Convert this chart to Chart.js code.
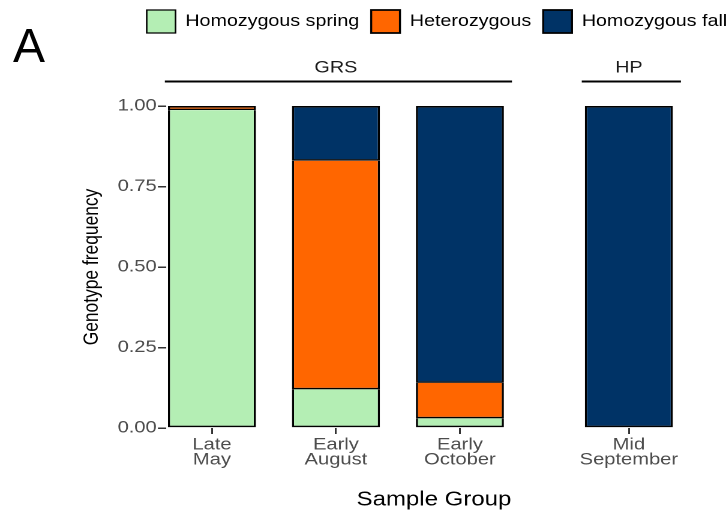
<!DOCTYPE html>
<html><head><meta charset="utf-8">
<script src="https://cdn.jsdelivr.net/npm/chart.js@4.4.1/dist/chart.umd.min.js"></script>
<style>
html,body{margin:0;padding:0;background:#fff;overflow:hidden;width:728px;height:518px;}
#stretch{position:absolute;left:0;top:0;width:616px;height:518px;transform:scaleX(1.2);transform-origin:0 0;}
#panel{position:absolute;left:13px;top:22px;font-family:'Liberation Sans',Arial,sans-serif;font-size:48px;line-height:48px;color:#000;}
</style></head><body>
<div id="stretch"><canvas id="c"></canvas></div>
<div id="panel">A</div>
<script>
// ---- data ----
const categories = ['Late May', 'Early August', 'Early October', 'Mid September'];
const tickLabels = [['Late', 'May'], ['Early', 'August'], ['Early', 'October'], ['Mid', 'September']];
const categoryGroup = ['GRS', 'GRS', 'GRS', 'HP'];
const groupNames = ['GRS', 'HP'];
const seriesNames = ['Homozygous spring', 'Heterozygous', 'Homozygous fall'];
const homozygousSpring = [0.987, 0.12, 0.03, 0];
const heterozygous = [0.013, 0.71, 0.11, 0];
const homozygousFall = [0, 0.17, 0.86, 1];
const yTicks = [0, 0.25, 0.5, 0.75, 1];

// ---- layout / style ----
const FONT = "'Liberation Sans', Arial, sans-serif";
const colors = ['#B4EEB4', '#FF6600', '#003366'];
const seriesValues = [homozygousSpring, heterozygous, homozygousFall];
const FACET_GAP = 0.363;
const xPos = categories.map((c, i) => i + 1 + groupNames.indexOf(categoryGroup[i]) * FACET_GAP);
const groupCenter = groupNames.map(g => {
  const p = xPos.filter((x, i) => categoryGroup[i] === g);
  return (Math.min(...p) + Math.max(...p)) / 2;
});
const groupSpan = groupNames.map(g => {
  const p = xPos.filter((x, i) => categoryGroup[i] === g);
  return [Math.min(...p) - 0.38, Math.max(...p) + 0.42];
});
const XMIN = 0.629, XMAX = 4.953;
const BH = 1.6;   // horizontal edge thickness
const BV = 1.8;   // vertical edge thickness (before horizontal stretch)

const stripPlugin = {
  id: 'strips',
  afterDraw(chart) {
    const {ctx, chartArea} = chart;
    const xs = chart.scales.x;
    ctx.save();
    ctx.strokeStyle = '#000';
    ctx.lineWidth = 2;
    const y = chartArea.top - 24.5;
    groupSpan.forEach(([a, b]) => {
      ctx.beginPath();
      ctx.moveTo(xs.getPixelForValue(a), y);
      ctx.lineTo(xs.getPixelForValue(b), y);
      ctx.stroke();
    });
    ctx.restore();
  }
};

const datasets = seriesNames.map((name, s) => ({
  label: name,
  data: categories.map((c, i) => ({x: xPos[i], y: seriesValues[s][i]})),
  backgroundColor: colors[s],
  borderColor: '#000',
  borderSkipped: false,
  borderWidth: (ctx) => {
    if (ctx.type !== 'data') return 1.8;
    let above = 0;
    for (let k = ctx.datasetIndex + 1; k < seriesValues.length; k++) above += seriesValues[k][ctx.dataIndex];
    return {top: above === 0 ? BH : 0, left: BV, right: BV, bottom: BH};
  },
  barPercentage: 0.71,
  categoryPercentage: 1
}));

new Chart(document.getElementById('c'), {
  type: 'bar',
  data: {datasets},
  plugins: [stripPlugin],
  options: {
    responsive: true,
    maintainAspectRatio: false,
    animation: false,
    devicePixelRatio: 2,
    layout: {padding: 0},
    plugins: {
      tooltip: {enabled: false},
      legend: {
        position: 'top',
        align: 'end',
        labels: {
          boxWidth: 24, boxHeight: 23, padding: 10,
          color: '#000',
          font: {family: FONT, size: 16.4}
        }
      }
    },
    scales: {
      x: {
        type: 'linear', position: 'bottom', stacked: true,
        offset: false,
        min: XMIN, max: XMAX,
        afterBuildTicks: (s) => { s.ticks = xPos.map(v => ({value: v})); },
        afterFit: (s) => { s.height = 90; },
        grid: {offset: false, drawOnChartArea: false, drawTicks: true, tickLength: 6, color: '#333', lineWidth: 1.5},
        border: {display: false},
        ticks: {
          autoSkip: false, maxRotation: 0, padding: 3.3,
          color: '#4D4D4D',
          font: {family: FONT, size: 16.8, lineHeight: 0.9},
          callback: (v, i) => tickLabels[i]
        },
        title: {display: true, text: 'Sample Group', color: '#000',
          font: {family: FONT, size: 20}, padding: {top: 0, bottom: 6}}
      },
      x2: {
        type: 'linear', position: 'top',
        offset: false,
        min: XMIN, max: XMAX,
        afterBuildTicks: (s) => { s.ticks = groupCenter.map(v => ({value: v})); },
        afterFit: (s) => { s.height = 63; },
        grid: {offset: false, display: false, drawTicks: false},
        border: {display: false},
        ticks: {
          autoSkip: false, maxRotation: 0, padding: 28,
          color: '#1A1A1A',
          font: {family: FONT, size: 16.5},
          callback: (v, i) => groupNames[i]
        }
      },
      y: {
        type: 'linear', position: 'left', stacked: true,
        min: 0, max: 1,
        afterBuildTicks: (s) => { s.ticks = yTicks.map(v => ({value: v})); },
        afterFit: (s) => { s.width = 138.3; },
        grid: {drawOnChartArea: false, drawTicks: true, tickLength: 6.7, color: '#333', lineWidth: 1.5},
        border: {display: false},
        ticks: {
          padding: 1, color: '#4D4D4D',
          font: {family: FONT, size: 16.8},
          callback: (v) => Number(v).toFixed(2)
        },
        title: {display: true, text: 'Genotype frequency', color: '#000',
          font: {family: FONT, size: 17.4}, padding: {top: 66.2, bottom: 0}}
      },
      ySpacer: {
        type: 'linear', position: 'right', display: true,
        afterFit: (s) => { s.width = 31; },
        grid: {display: false, drawTicks: false},
        border: {display: false},
        ticks: {display: false}
      }
    }
  }
});
</script>
</body></html>
